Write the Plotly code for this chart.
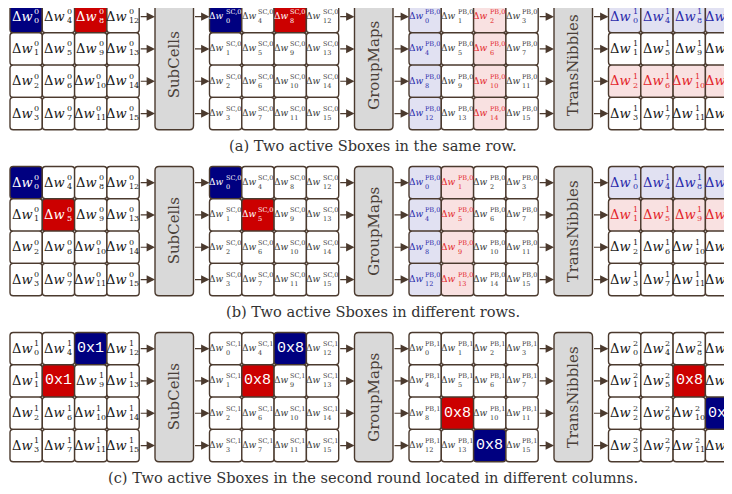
import plotly.graph_objects as go

# ---------------- data ----------------
rounds = [0, 0, 1]
captions = [
    "(a) Two active Sboxes in the same row.",
    "(b) Two active Sboxes in different rows.",
    "(c) Two active Sboxes in the second round located in different columns.",
]
stage_names = ["SubCells", "GroupMaps", "TransNibbles"]
sup_prefix = ["", "SC,", "PB,", ""]

# solid active cells: (grid, row, col, colour, label)
solid_a = [(0, 0, 0, "blue", None), (0, 0, 2, "red", None),
           (1, 0, 0, "blue", None), (1, 0, 2, "red", None)]
solid_b = [(0, 0, 0, "blue", None), (0, 1, 1, "red", None),
           (1, 0, 0, "blue", None), (1, 1, 1, "red", None)]
solid_c = [(0, 0, 2, "blue", "0x1"), (0, 1, 1, "red", "0x1"),
           (1, 0, 2, "blue", "0x8"), (1, 1, 1, "red", "0x8"),
           (2, 2, 1, "red", "0x8"), (2, 3, 2, "blue", "0x8"),
           (3, 1, 2, "red", "0x8"), (3, 2, 3, "blue", "0x8")]
solid_cells = [solid_a, solid_b, solid_c]
pb_blue_col = [0, 0, None]
pb_red_col = [2, 1, None]
out_blue_row = [0, 0, None]
out_red_row = [2, 1, None]

# ---------------- style ----------------
BORDER = "#4B3A2E"
DARK = {"blue": "#000080", "red": "#CC0000"}
LIGHT = {"blue": "#E1E1F2", "red": "#F9E1E1"}
LTEXT = {"blue": "#2A2AAA", "red": "#E3262A"}
SERIF = "DejaVu Serif"

GRID_X0 = 10.0
GRID_DX = 199.5
PANEL_Y0 = 0.5
PANEL_DY = 166.0
CELL = 32.3
BOX_DX = 145.0
BOX_W = 38.5
PAGE_OFF = 8  # default body margin of the html page


def rrect(x0, y0, x1, y1, r):
    return (f"M {x0+r},{y0} L {x1-r},{y0} Q {x1},{y0} {x1},{y0+r} "
            f"L {x1},{y1-r} Q {x1},{y1} {x1-r},{y1} L {x0+r},{y1} "
            f"Q {x0},{y1} {x0},{y1-r} L {x0},{y0+r} Q {x0},{y0} {x0+r},{y0} Z")


shapes = []
ann = []

for p in range(3):
    py0 = PANEL_Y0 + PANEL_DY * p
    rnd = rounds[p]
    solid = {(g, r, c): (col, lab) for g, r, c, col, lab in solid_cells[p]}
    for g in range(4):
        gx0 = GRID_X0 + GRID_DX * g
        for r in range(4):
            for c in range(4):
                x0 = gx0 + c * CELL
                y0 = py0 + r * CELL
                fill = "white"
                tcol = "#1a1a1a" if g in (0, 3) else "#3a3a3a"
                label = None
                if (g, r, c) in solid:
                    colname, label = solid[(g, r, c)]
                    fill = DARK[colname]
                    tcol = "white"
                elif g == 2 and pb_blue_col[p] == c:
                    fill, tcol = LIGHT["blue"], LTEXT["blue"]
                elif g == 2 and pb_red_col[p] == c:
                    fill, tcol = LIGHT["red"], LTEXT["red"]
                elif g == 3 and out_blue_row[p] == r:
                    fill, tcol = LIGHT["blue"], LTEXT["blue"]
                elif g == 3 and out_red_row[p] == r:
                    fill, tcol = LIGHT["red"], LTEXT["red"]
                shapes.append(dict(type="path", path=rrect(x0, y0, x0 + CELL, y0 + CELL, 3.2),
                                   fillcolor=fill, line=dict(color=BORDER, width=1.4),
                                   xref="x", yref="y", layer="below"))
                cx = x0 + CELL / 2
                cy = y0 + CELL / 2
                if label is not None:
                    ann.append(dict(x=cx, y=cy, text=label, showarrow=False,
                                    font=dict(family="Liberation Mono", size=15, color="white"),
                                    xanchor="center", yanchor="middle"))
                    continue
                idx = 4 * r + c if g == 2 else 4 * c + r
                sup = sup_prefix[g] + str(rnd + 1 if g == 3 else rnd)
                sub = str(idx)
                if g in (0, 3):
                    msize, ssize, mw = 13, 8, 19.5
                    sw = max(len(sub), 1) * 0.64 * ssize
                    dy_sup, dy_sub, dy_main = -5.0, 4.0, -0.5
                else:
                    msize, ssize, mw = 9, 6.5, 13.5
                    sw = max(2.37 * ssize, len(sub) * 0.64 * ssize)
                    dy_sup, dy_sub, dy_main = -4.5, 4.5, -0.5
                total = mw + sw
                split = cx - total / 2 + mw
                ann.append(dict(x=split + 0.5, y=cy + dy_main, text="Δ<i>w</i>", showarrow=False,
                                font=dict(family=SERIF, size=msize, color=tcol),
                                xanchor="right", yanchor="middle", borderpad=0))
                ann.append(dict(x=split, y=cy + dy_sup, text=sup, showarrow=False,
                                font=dict(family=SERIF, size=ssize, color=tcol),
                                xanchor="left", yanchor="middle", borderpad=0))
                ann.append(dict(x=split, y=cy + dy_sub, text=sub, showarrow=False,
                                font=dict(family=SERIF, size=ssize, color=tcol),
                                xanchor="left", yanchor="middle", borderpad=0))
    # operation boxes and arrows
    for b in range(3):
        gx0 = GRID_X0 + GRID_DX * b
        bx0 = gx0 + BOX_DX
        bx1 = bx0 + BOX_W
        shapes.append(dict(type="path", path=rrect(bx0, py0, bx1, py0 + 4 * CELL, 4),
                           fillcolor="#D9D9D9", line=dict(color=BORDER, width=1.4),
                           xref="x", yref="y", layer="below"))
        ann.append(dict(x=(bx0 + bx1) / 2, y=py0 + 2 * CELL, text=stage_names[b], textangle=-90,
                        showarrow=False, font=dict(family=SERIF, size=15, color="#4A3F38"),
                        xanchor="center", yanchor="middle"))
        for r in range(4):
            ay = py0 + r * CELL + CELL / 2
            ann.append(dict(x=bx0, y=ay, ax=gx0 + 4 * CELL, ay=ay, axref="x", ayref="y",
                            text="", showarrow=True, arrowhead=2, arrowsize=1.4,
                            arrowwidth=1.2, arrowcolor=BORDER, standoff=0, startstandoff=0))
            ann.append(dict(x=gx0 + GRID_DX, y=ay, ax=bx1, ay=ay, axref="x", ayref="y",
                            text="", showarrow=True, arrowhead=2, arrowsize=1.4,
                            arrowwidth=1.2, arrowcolor=BORDER, standoff=0, startstandoff=0))
    ann.append(dict(x=373, y=py0 + 4 * CELL + 15.5, text=captions[p], showarrow=False,
                    font=dict(family=SERIF, size=14.6, color="#333333"),
                    xanchor="center", yanchor="middle"))

fig = go.Figure()
fig.add_trace(go.Scatter(x=[PAGE_OFF, 732], y=[PAGE_OFF, 494], mode="markers",
                         marker=dict(opacity=0), hoverinfo="skip", showlegend=False))
fig.update_layout(
    width=732, height=494, margin=dict(l=0, r=0, t=0, b=0),
    paper_bgcolor="white", plot_bgcolor="white",
    xaxis=dict(range=[PAGE_OFF, 732 + PAGE_OFF], visible=False, fixedrange=True),
    yaxis=dict(range=[494 + PAGE_OFF, PAGE_OFF], visible=False, fixedrange=True),
    shapes=shapes, annotations=ann,
)
fig.write_html("out.html")
